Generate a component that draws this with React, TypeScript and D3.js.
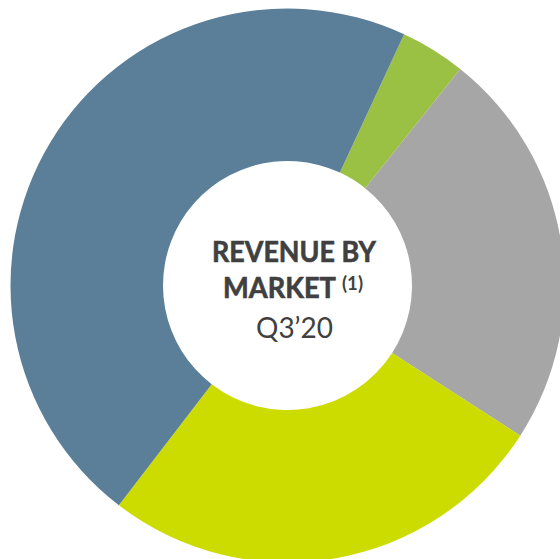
import React from 'react';
import * as d3 from 'd3';

// revenue share by market, read clockwise from the top
const markets = ['Market D', 'Market C', 'Market B', 'Market A'];
const shares = [3.8, 23.4, 26.3, 46.5];
const colors = ['#9BC144', '#A6A6A6', '#CDDC00', '#5B7F98'];

const titleLines = ['REVENUE BY', 'MARKET'];
const footnote = '(1)';
const period = 'Q3’20';

const App = () => {
  const width = 560;
  const height = 559;
  const cx = 287.5;
  const cy = 285.5;
  const outer = 277;
  const inner = 124.5;

  const start = (24.9 * Math.PI) / 180;
  const pie = d3
    .pie<number>()
    .sort(null)
    .startAngle(start)
    .endAngle(start + 2 * Math.PI)
    .value(d => d);

  const arc = d3.arc<d3.PieArcDatum<number>>().innerRadius(inner).outerRadius(outer);
  const slices = pie(shares);

  return (
    <svg
      width={width}
      height={height}
      style={{ position: 'absolute', left: 0, top: 0, background: '#fff' }}
    >
      <g transform={`translate(${cx},${cy})`}>
        {slices.map((s, i) => (
          <path key={markets[i]} d={arc(s) || ''} fill={colors[i]} />
        ))}
      </g>
      <g fill="#404040" fontFamily="Lato, 'Open Sans', sans-serif">
        <text x={212} y={261.5} fontSize={28} fontWeight="bold" textLength={164} lengthAdjust="spacingAndGlyphs"
          stroke="#404040" strokeWidth={0.6}>
          {titleLines[0]}
        </text>
        <text x={223} y={298} fontSize={28} fontWeight="bold" textLength={113} lengthAdjust="spacingAndGlyphs"
          stroke="#404040" strokeWidth={0.6}>
          {titleLines[1]}
        </text>
        <text x={342} y={290} fontSize={18} fontWeight="bold" textLength={21} lengthAdjust="spacingAndGlyphs">
          {footnote}
        </text>
        <text x={256} y={338} fontSize={28} textLength={77} lengthAdjust="spacingAndGlyphs">
          {period}
        </text>
      </g>
    </svg>
  );
};

export default App;
